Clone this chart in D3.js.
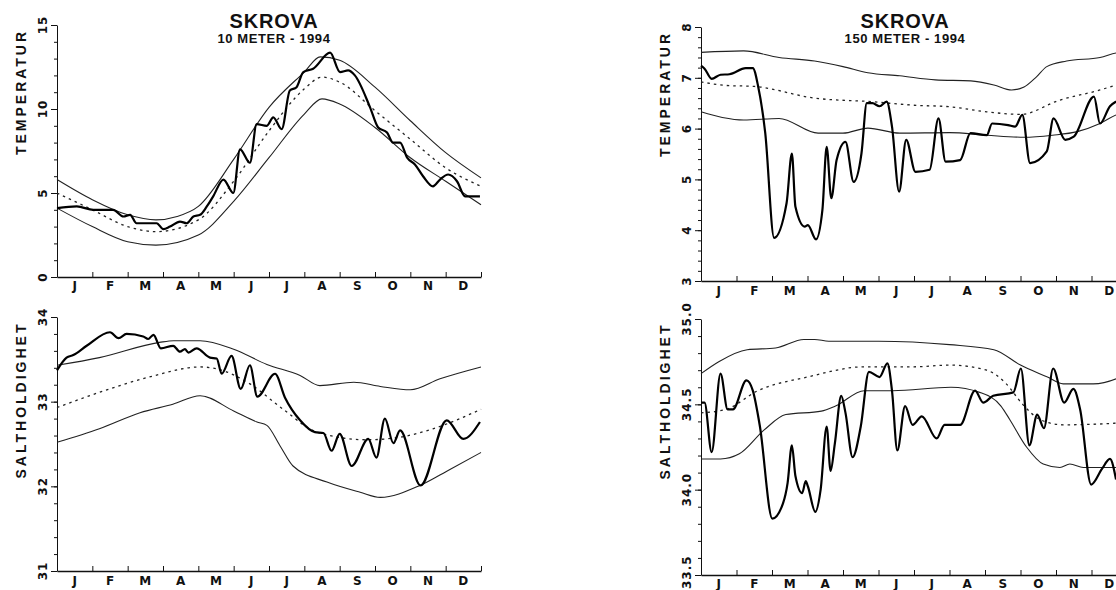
<!DOCTYPE html>
<html>
<head>
<meta charset="utf-8">
<script src="https://cdn.jsdelivr.net/npm/d3@7"></script>
<style>
  body { margin: 0; background: #fff; }
  text { font-family: "Liberation Sans", Arial, sans-serif; font-weight: bold; fill: #111; }
  text.wide { font-family: "DejaVu Sans", sans-serif; }
</style>
</head>
<body>
<svg id="chart" width="1116" height="590"></svg>
<script>
const months = ["J", "F", "M", "A", "M", "J", "J", "A", "S", "O", "N", "D"];

// 10 meter temperature: [month, value]
const t10Upper = [[0,5.8],[1,4.6],[2,3.7],[2.8,3.4],[3.4,3.6],[4,4.2],[5,7.0],[6,10.1],[7,12.2],[7.45,13.1],[8,12.9],[9,11.3],[10,9.3],[11,7.4],[12,5.9]];
const t10Mean = [[0,5.0],[1,4.0],[2,3.0],[2.8,2.7],[4,3.4],[5,5.7],[6,8.7],[7,11.2],[7.5,11.9],[8,11.6],[9,9.9],[10,8.2],[11,6.5],[12,5.4]];
const t10Lower = [[0,4.1],[1,3.0],[2,2.1],[2.8,1.9],[4,2.5],[5,4.5],[6,7.1],[7,9.7],[7.5,10.6],[8,10.3],[9,8.9],[10,7.1],[11,5.7],[12,4.3]];
const t10Obs = [[0,4.1],[0.56,4.2],[1.03,4.0],[1.59,4.0],[1.88,3.6],[2.07,3.7],[2.25,3.2],[2.54,3.2],[2.82,3.2],[3.01,2.85],[3.2,3.0],[3.48,3.3],[3.67,3.2],[3.86,3.6],[4.05,3.7],[4.24,4.2],[4.42,4.8],[4.71,5.8],[4.99,5.0],[5.18,7.6],[5.46,6.8],[5.65,9.1],[5.94,9.0],[6.12,9.5],[6.36,8.8],[6.59,11.1],[6.78,11.3],[6.97,12.2],[7.25,12.4],[7.73,13.35],[8.01,12.2],[8.24,12.3],[8.43,12.0],[8.86,10.1],[9.09,8.9],[9.34,8.6],[9.51,8.0],[9.71,8.0],[9.91,7.1],[10.13,6.7],[10.36,6.0],[10.64,5.4],[10.84,5.8],[11.07,6.1],[11.32,5.7],[11.55,4.8],[11.97,4.8]];

// 10 meter salinity
const s10Upper = [[0,33.43],[1.2,33.52],[2.9,33.70],[3.3,33.72],[4.05,33.72],[5,33.62],[5.94,33.44],[6.88,33.31],[7.44,33.19],[8.4,33.23],[9.15,33.18],[10,33.14],[10.84,33.27],[12,33.41]];
const s10Mean = [[0,32.93],[1.2,33.11],[2.6,33.29],[4.05,33.41],[4.5,33.39],[5.46,33.21],[6.4,32.91],[7.36,32.64],[8.77,32.55],[9.7,32.58],[10.64,32.68],[12,32.91]];
const s10Lower = [[0,32.52],[1.2,32.68],[2.35,32.87],[3.28,32.97],[4.05,33.07],[5,32.89],[5.66,32.76],[5.94,32.72],[6.31,32.48],[6.68,32.24],[7.64,32.05],[8.58,31.93],[9.15,31.87],[10.27,32.01],[11.12,32.20],[12,32.40]];
const s10Obs = [[0,33.37],[0.27,33.52],[0.46,33.55],[0.84,33.66],[1.5,33.82],[1.74,33.75],[1.97,33.80],[2.44,33.77],[2.58,33.74],[2.73,33.79],[2.94,33.63],[3.29,33.66],[3.48,33.59],[3.62,33.62],[3.72,33.58],[3.95,33.63],[4.33,33.52],[4.52,33.51],[4.66,33.33],[4.94,33.54],[5.2,33.15],[5.46,33.43],[5.67,33.06],[6.17,33.33],[6.45,33.05],[6.88,32.78],[7.3,32.64],[7.54,32.63],[7.77,32.42],[8.0,32.62],[8.34,32.24],[8.81,32.56],[9.04,32.34],[9.28,32.80],[9.52,32.51],[9.71,32.66],[10.29,32.01],[11.03,32.78],[11.5,32.56],[11.97,32.76]];

// 150 meter temperature
const t150Upper = [[0,7.50],[1.2,7.53],[2.2,7.40],[3.2,7.33],[4.0,7.22],[4.7,7.10],[5.6,7.04],[6.6,6.96],[7.6,6.94],[8.25,6.86],[8.75,6.76],[9.1,6.82],[9.45,7.02],[9.74,7.22],[10.3,7.33],[11.24,7.40],[11.7,7.49],[12,7.52]];
const t150Mean = [[0,6.92],[0.7,6.85],[1.5,6.83],[3.2,6.60],[4.8,6.53],[6.0,6.46],[7.0,6.43],[8.05,6.33],[9.0,6.28],[10.1,6.56],[11.24,6.76],[11.7,6.86],[12,6.92]];
const t150Lower = [[0,6.33],[0.6,6.22],[1.2,6.17],[2.2,6.20],[3.3,5.91],[4.0,5.91],[4.7,6.01],[5.6,5.91],[7.0,5.92],[8.05,5.87],[9.1,5.83],[9.9,5.87],[10.6,5.94],[11.24,6.10],[11.7,6.27],[12,6.33]];
const t150Obs = [[0,7.24],[0.1,7.18],[0.3,6.98],[0.55,7.06],[0.8,7.07],[1.26,7.19],[1.46,7.19],[1.61,6.83],[1.81,5.91],[2.06,3.85],[2.41,4.53],[2.56,5.51],[2.66,4.46],[2.92,4.07],[3.01,4.10],[3.24,3.82],[3.42,4.40],[3.54,5.64],[3.67,4.63],[3.82,5.38],[4.07,5.74],[4.30,4.95],[4.52,5.51],[4.67,6.50],[4.83,6.50],[5.03,6.44],[5.23,6.53],[5.38,6.04],[5.58,4.76],[5.78,5.78],[6.04,5.15],[6.44,5.19],[6.69,6.20],[6.89,5.35],[7.3,5.38],[7.59,5.91],[8.05,5.87],[8.2,6.10],[8.65,6.07],[8.85,6.04],[9.05,6.27],[9.27,5.32],[9.74,5.55],[9.93,6.20],[10.26,5.78],[10.5,5.84],[11.07,6.63],[11.24,6.10],[11.52,6.44],[11.69,6.53],[12,6.6]];

// 150 meter salinity
const s150Upper = [[0,34.68],[0.5,34.75],[1.3,34.82],[2.1,34.83],[2.9,34.88],[3.2,34.88],[3.6,34.87],[5.0,34.87],[7.0,34.85],[8.25,34.82],[9.0,34.73],[9.76,34.66],[10.2,34.62],[11.05,34.62],[11.7,34.65],[12,34.68]];
const s150Mean = [[0,34.45],[0.7,34.47],[1.6,34.58],[3.0,34.66],[4.6,34.72],[6.0,34.72],[7.0,34.73],[8.05,34.70],[8.6,34.62],[9.06,34.50],[9.56,34.41],[10.2,34.38],[11.7,34.39],[12,34.40]];
const s150Lower = [[0,34.18],[0.55,34.18],[1.08,34.21],[1.78,34.35],[2.39,34.44],[3.39,34.46],[3.79,34.49],[4.6,34.58],[5.4,34.58],[7.04,34.60],[7.85,34.57],[8.45,34.49],[8.7,34.41],[9.17,34.25],[9.64,34.15],[10.11,34.13],[10.39,34.15],[10.77,34.13],[11.7,34.13],[12,34.15]];
const s150Obs = [[0,34.51],[0.1,34.51],[0.3,34.22],[0.55,34.68],[0.75,34.47],[0.9,34.47],[1.28,34.64],[1.46,34.58],[1.66,34.37],[2.01,33.83],[2.31,33.92],[2.44,34.04],[2.56,34.26],[2.66,34.08],[2.85,33.98],[2.95,34.05],[3.01,34.02],[3.22,33.87],[3.37,34.00],[3.54,34.37],[3.65,34.11],[3.77,34.27],[3.95,34.55],[4.07,34.45],[4.27,34.19],[4.50,34.37],[4.73,34.69],[5.03,34.66],[5.25,34.74],[5.38,34.58],[5.53,34.23],[5.75,34.49],[5.96,34.38],[6.22,34.43],[6.64,34.30],[6.86,34.38],[7.3,34.38],[7.72,34.58],[7.95,34.51],[8.23,34.55],[8.8,34.57],[9.01,34.71],[9.25,34.26],[9.47,34.44],[9.66,34.36],[9.92,34.71],[10.23,34.51],[10.49,34.59],[10.68,34.47],[10.99,34.03],[11.29,34.12],[11.52,34.18],[11.69,34.06]];

const t10Ticks = [0, 5, 10, 15];
const s10Ticks = [31, 32, 33, 34];
const t150Ticks = [3, 4, 5, 6, 7, 8];
const s150Ticks = [33.5, 34.0, 34.5, 35.0];

const svg = d3.select("#chart");
const svgHeight = 590;

function drawPanel(cfg) {
  const x = d3.scaleLinear().domain([0, 12]).range(cfg.xr);
  const y = d3.scaleLinear().domain(cfg.yd).range(cfg.yr);
  const g = svg.append("g");
  const x0 = cfg.xr[0];

  // minor y ticks
  g.append("g")
    .attr("transform", `translate(${x0},0)`)
    .call(d3.axisLeft(y).tickValues(d3.range(cfg.yd[0], cfg.yd[1] + 1e-6, cfg.minor)).tickSize(3).tickFormat(""))
    .call(a => a.select(".domain").remove());

  // y axis with major ticks
  g.append("g")
    .attr("transform", `translate(${x0},0)`)
    .call(d3.axisLeft(y).tickValues(cfg.ticks).tickSizeInner(6).tickSizeOuter(0).tickFormat(""));

  const labs = g.selectAll(".ylab")
    .data(cfg.ticks)
    .enter()
    .append("text")
      .attr("class", "wide")
      .attr("text-anchor", "middle")
      .style("font-size", "12px")
      .style("letter-spacing", "1px")
      .text(d => cfg.fmt(d));
  // keep rotated labels inside the picture
  labs.attr("transform", function(d) {
    const half = this.getComputedTextLength() / 2 + 1;
    const cy = Math.min(y(d), svgHeight - half);
    return `translate(${x0 - 10},${cy}) rotate(-90)`;
  });

  // x axis, month boundaries
  g.append("g")
    .attr("transform", `translate(0,${cfg.yr[0]})`)
    .call(d3.axisBottom(x).tickValues(d3.range(0, 13)).tickSizeInner(-5).tickSizeOuter(0).tickFormat(""))
    .call(a => a.select(".domain").attr("stroke-width", 1.6));

  g.selectAll(".mlab")
    .data(months)
    .enter()
    .append("text")
      .attr("class", "wide")
      .attr("x", (d, i) => x(i + 0.5))
      .attr("y", cfg.yr[0] + cfg.mdy)
      .attr("text-anchor", "middle")
      .style("font-size", "12px")
      .text(d => d);

  g.selectAll(".tick line").attr("stroke", "#111");
  g.selectAll(".domain").attr("stroke", "#111");

  // axis title
  g.append("text")
    .attr("transform", `translate(${cfg.labX},${cfg.labY}) rotate(-90)`)
    .attr("text-anchor", "middle")
    .style("font-size", "14px")
    .style("letter-spacing", "3px")
    .text(cfg.label);

  const line = d3.line()
    .x(d => x(d[0]))
    .y(d => y(d[1]))
    .curve(d3.curveMonotoneX);

  [cfg.upper, cfg.lower].forEach(s => {
    g.append("path")
      .datum(s)
      .attr("fill", "none")
      .attr("stroke", "#222")
      .attr("stroke-width", 1.1)
      .attr("d", line);
  });

  g.append("path")
    .datum(cfg.mean)
    .attr("fill", "none")
    .attr("stroke", "#222")
    .attr("stroke-width", 1.3)
    .attr("stroke-dasharray", "2.5,4")
    .attr("d", line);

  g.append("path")
    .datum(cfg.obs)
    .attr("fill", "none")
    .attr("stroke", "#000")
    .attr("stroke-width", 2.2)
    .attr("stroke-linejoin", "round")
    .attr("d", line);
}

function drawTitle(cx, sub) {
  svg.append("text")
    .attr("x", cx).attr("y", 28)
    .attr("text-anchor", "middle")
    .style("font-size", "20px")
    .style("letter-spacing", "0.8px")
    .text("SKROVA");
  svg.append("text")
    .attr("x", cx).attr("y", 43)
    .attr("text-anchor", "middle")
    .style("font-size", "13px")
    .style("letter-spacing", "0.6px")
    .text(sub);
}

drawPanel({ xr: [57, 481], yd: [0, 15], yr: [277, 25], ticks: t10Ticks, minor: 1, fmt: d => d,
  mdy: 13, label: "TEMPERATUR", labX: 26, labY: 92,
  upper: t10Upper, mean: t10Mean, lower: t10Lower, obs: t10Obs });

drawPanel({ xr: [57, 481], yd: [31, 34], yr: [571, 317], ticks: s10Ticks, minor: 0.2, fmt: d => d,
  mdy: 14, label: "SALTHOLDIGHET", labX: 26, labY: 400,
  upper: s10Upper, mean: s10Mean, lower: s10Lower, obs: s10Obs });

drawPanel({ xr: [701, 1127], yd: [3, 8], yr: [281, 27], ticks: t150Ticks, minor: 0.2, fmt: d => d,
  mdy: 14, label: "TEMPERATUR", labX: 670, labY: 94,
  upper: t150Upper, mean: t150Mean, lower: t150Lower, obs: t150Obs });

drawPanel({ xr: [701, 1127], yd: [33.5, 35], yr: [575, 319], ticks: s150Ticks, minor: 0.1, fmt: d => d.toFixed(1),
  mdy: 13, label: "SALTHOLDIGHET", labX: 670, labY: 401,
  upper: s150Upper, mean: s150Mean, lower: s150Lower, obs: s150Obs });

drawTitle(274, "10 METER - 1994");
drawTitle(905, "150 METER - 1994");
</script>
</body>
</html>
